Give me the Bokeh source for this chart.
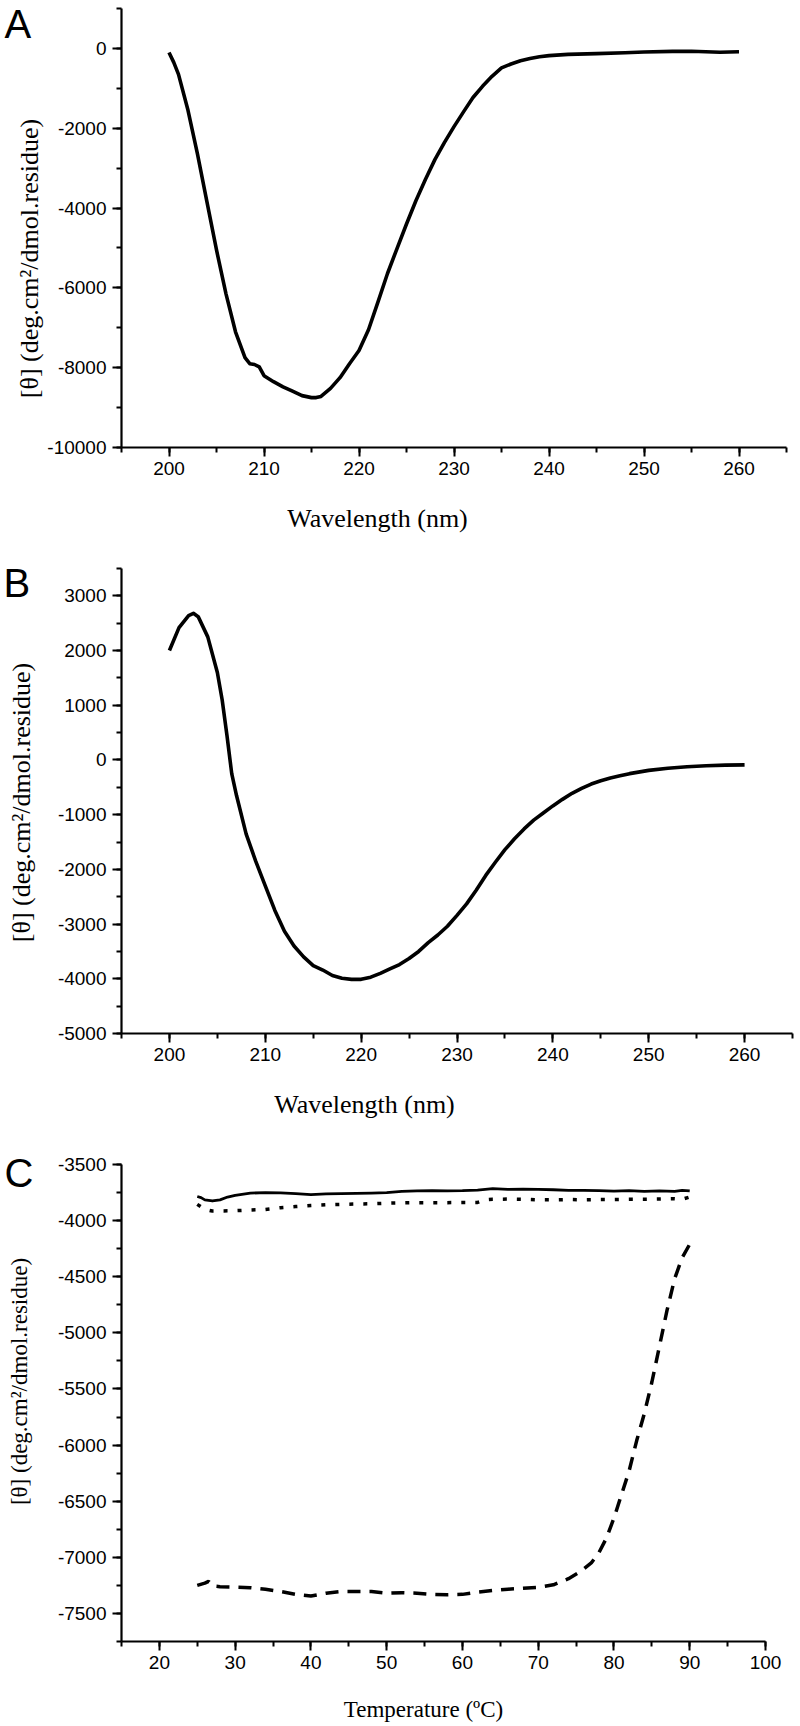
from math import pi
from bokeh.plotting import figure
from bokeh.layouts import column
from bokeh.models import Range1d, SingleIntervalTicker, Label, PrintfTickFormatter
from bokeh.embed import file_html
from bokeh.resources import INLINE

# ---------------- data ----------------
a_wavelength = [200, 200.5, 201, 202, 203, 204, 205, 206, 207, 208, 208.5, 209, 209.5, 210, 211, 212, 213, 214,
                215, 215.5, 216, 217, 218, 219, 220, 221, 222, 223, 224, 225, 226, 227, 228, 229, 230, 231, 232,
                233, 234, 235, 236, 237, 238, 239, 240, 242, 245, 248, 250, 253, 255, 258, 260]
a_theta = [-100, -350, -650, -1550, -2650, -3850, -5050, -6150, -7100, -7750, -7900, -7920, -7980, -8200, -8350,
           -8480, -8590, -8700, -8750, -8750, -8720, -8520, -8250, -7900, -7570, -7050, -6350, -5640, -5015, -4400,
           -3810, -3280, -2780, -2355, -1960, -1590, -1230, -950, -700, -490, -390, -310, -255, -210, -180, -150,
           -130, -110, -90, -75, -70, -95, -85]

b_wavelength = [200, 201, 202, 202.5, 203, 204, 205, 205.5, 206, 206.5, 207, 208, 209, 210, 211, 212, 213, 214, 215,
                216, 217, 218, 219, 220, 221, 222, 223, 224, 225, 226, 227, 228, 229, 230, 231, 232, 233, 234, 235,
                236, 237, 238, 239, 240, 241, 242, 243, 244, 245, 246, 247, 248, 250, 252, 254, 256, 258, 260]
b_theta = [2000, 2420, 2640, 2680, 2620, 2250, 1600, 1100, 450, -250, -650, -1350, -1850, -2300, -2750, -3130, -3400,
           -3600, -3760, -3840, -3940, -3990, -4010, -4010, -3970, -3900, -3820, -3740, -3630, -3500, -3340, -3200,
           -3040, -2840, -2630, -2380, -2110, -1870, -1640, -1440, -1260, -1100, -970, -840, -720, -610, -520, -440,
           -380, -330, -290, -250, -190, -150, -125, -105, -95, -90]

c_temp_solid = [25, 25.5, 26, 27, 28, 29, 30, 32, 34, 36, 38, 40, 42, 44, 46, 48, 50, 52, 54, 56, 58, 60, 62, 64,
                66, 68, 70, 72, 74, 76, 78, 80, 82, 84, 86, 88, 89, 90]
c_solid = [-3785, -3795, -3815, -3825, -3815, -3790, -3775, -3755, -3750, -3752, -3760, -3768, -3762, -3760, -3758,
           -3755, -3750, -3740, -3735, -3733, -3735, -3733, -3728, -3715, -3722, -3720, -3722, -3725, -3730, -3730,
           -3732, -3738, -3733, -3740, -3735, -3740, -3730, -3735]

c_temp_dotted = [25, 26, 27, 30, 32, 34, 36, 38, 40, 42, 44, 46, 48, 50, 52, 54, 56, 58, 60, 62, 63, 64, 66, 68, 70,
                 72, 74, 76, 78, 80, 82, 84, 86, 88, 89, 90]
c_dotted = [-3855, -3900, -3915, -3912, -3905, -3900, -3885, -3875, -3865, -3858, -3855, -3852, -3850, -3845, -3842,
            -3840, -3840, -3840, -3838, -3838, -3815, -3810, -3808, -3810, -3815, -3815, -3812, -3815, -3812, -3812,
            -3810, -3810, -3808, -3805, -3810, -3790]

c_temp_dashed = [25, 26, 26.5, 27, 28, 30, 32, 34, 36, 38, 40, 42, 44, 46, 48, 50, 52, 54, 56, 58, 60, 62, 64, 66,
                 68, 70, 72, 74, 75.5, 77, 78, 79, 80, 81, 82, 83, 84, 85, 86, 87, 88, 89, 90]
c_dashed = [-7250, -7230, -7215, -7255, -7262, -7265, -7270, -7285, -7305, -7330, -7345, -7320, -7305, -7305, -7305,
            -7320, -7315, -7320, -7330, -7333, -7330, -7310, -7295, -7284, -7275, -7268, -7245, -7190, -7130, -7050,
            -6960, -6830, -6650, -6440, -6230, -5960, -5720, -5440, -5120, -4800, -4520, -4330, -4210]

y_title = "[\u03b8] (deg.cm\u00b2/dmol.residue)"
x_title_wl = "Wavelength (nm)"
x_title_t = "Temperature (\u00baC)"

SANS = "Liberation Sans"
SERIF = "Liberation Serif"


def make_panel(W, H, frame, xb, yb, xint, yint):
    """frame = (left, top, right, bottom) pixel box of the axes inside a W x H canvas;
    xb / yb = data bounds of the axes."""
    left, top, right, bottom = frame
    kx = (xb[1] - xb[0]) / (right - left)
    ky = (yb[1] - yb[0]) / (bottom - top)
    xr = Range1d(xb[0] - left * kx, xb[1] + (W - right) * kx)
    yr = Range1d(yb[0] - (H - bottom) * ky, yb[1] + top * ky)
    p = figure(width=W, height=H, x_range=xr, y_range=yr, output_backend="svg", toolbar_location=None,
               min_border=0, min_border_left=0, min_border_right=0, min_border_top=0, min_border_bottom=0)
    p.outline_line_color = None
    p.grid.visible = False
    p.background_fill_color = "white"
    p.border_fill_color = "white"
    p.xaxis.ticker = SingleIntervalTicker(interval=xint, num_minor_ticks=2)
    p.yaxis.ticker = SingleIntervalTicker(interval=yint, num_minor_ticks=2)
    p.xaxis.fixed_location = yb[0]
    p.yaxis.fixed_location = xb[0]
    p.xaxis.bounds = xb
    p.yaxis.bounds = yb
    for ax in (p.xaxis[0], p.yaxis[0]):
        ax.axis_line_width = 2.2
        ax.axis_line_color = "black"
        ax.major_tick_line_width = 2
        ax.minor_tick_line_width = 2
        ax.major_tick_line_color = "black"
        ax.minor_tick_line_color = "black"
        ax.major_tick_in = 0
        ax.minor_tick_in = 0
        ax.major_tick_out = 9
        ax.minor_tick_out = 5
        ax.major_label_text_font = SANS
        ax.major_label_text_font_size = "19px"
        ax.major_label_text_color = "black"
        ax.formatter = PrintfTickFormatter(format="%d")
    p.yaxis.major_label_standoff = 6
    p.xaxis.major_label_standoff = 5
    return p


def add_text(p, text, px, py, font, size, angle=0.0, align="center", baseline="middle"):
    # (px, py): canvas pixels from the top-left corner of this panel
    p.add_layout(Label(x=p.x_range.start, y=p.y_range.end, x_offset=px, y_offset=-py, text=text,
                       text_font=font, text_font_size=size, angle=angle, text_align=align,
                       text_baseline=baseline, text_color="black"))


# ---------------- panel A ----------------
pA = make_panel(800, 548, (121, 8, 786, 447), (195, 265), (-10000, 1000), 10, 2000)
pA.line(a_wavelength, a_theta, line_color="black", line_width=3.6, line_join="round")
add_text(pA, "A", 4, 23, SANS, "40px", align="left")
add_text(pA, y_title, 29, 258, SERIF, "26px", angle=pi / 2)
add_text(pA, x_title_wl, 377, 518, SERIF, "26px")

# ---------------- panel B ----------------
pB = make_panel(800, 600, (121, 20, 792, 485), (195, 265), (-5000, 3500), 10, 1000)
pB.line(b_wavelength, b_theta, line_color="black", line_width=3.6, line_join="round")
add_text(pB, "B", 3, 34, SANS, "40px", align="left")
add_text(pB, y_title, 21, 254, SERIF, "26px", angle=pi / 2)
add_text(pB, x_title_wl, 364, 556, SERIF, "26px")

# ---------------- panel C ----------------
pC = make_panel(800, 576, (121, 16, 765, 493), (15, 100), (-7750, -3500), 10, 500)
pC.line(c_temp_solid, c_solid, line_color="black", line_width=2.8, line_join="round")
pC.line(c_temp_dotted, c_dotted, line_color="black", line_width=3.5, line_dash="4 10")
pC.line(c_temp_dashed, c_dashed, line_color="black", line_width=3.5, line_dash="13 9")
add_text(pC, "C", 4, 24, SANS, "40px", align="left")
add_text(pC, y_title, 19, 233, SERIF, "23px", angle=pi / 2)
add_text(pC, x_title_t, 423, 561, SERIF, "23px")

layout = column(pA, pB, pC)
open("out.html", "w").write(file_html(layout, INLINE))
